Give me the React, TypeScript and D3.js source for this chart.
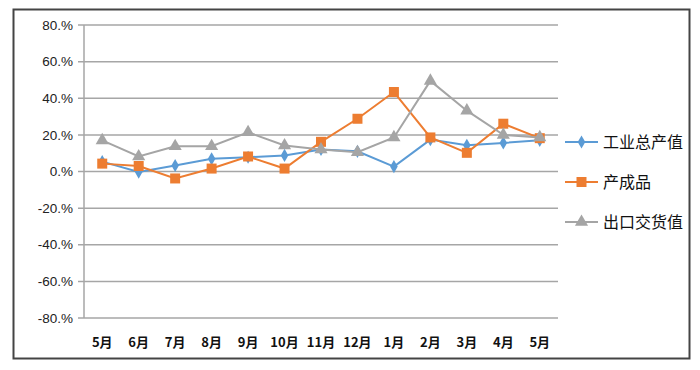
import React from 'react';
import * as d3 from 'd3';

const months = ['5月', '6月', '7月', '8月', '9月', '10月', '11月', '12月', '1月', '2月', '3月', '4月', '5月'];
const industrial = [5.4, -0.3, 3.3, 6.9, 7.8, 8.8, 12.0, 11.0, 2.7, 17.4, 14.3, 15.6, 17.0];
const finished = [4.3, 3.0, -3.8, 1.6, 8.2, 1.6, 16.2, 28.8, 43.4, 18.6, 10.2, 26.1, 18.2];
const exportValue = [17.0, 8.2, 13.8, 13.8, 21.4, 14.2, 12.0, 10.5, 18.6, 49.5, 33.2, 20.0, 18.6];
const yTicks = [-80, -60, -40, -20, 0, 20, 40, 60, 80];

const series = [
  { name: '工业总产值', values: industrial, color: '#5B9BD5', marker: 'diamond' },
  { name: '产成品', values: finished, color: '#ED7D31', marker: 'square' },
  { name: '出口交货值', values: exportValue, color: '#A5A5A5', marker: 'triangle' },
];

const WIDTH = 700;
const HEIGHT = 370;
const LEFT = 84;
const RIGHT = 558;
const TOP = 25;
const BOTTOM = 318;

const symbolFor = (m: string) => {
  if (m === 'diamond') return d3.symbol().type(d3.symbolDiamond).size(50)();
  if (m === 'square') return d3.symbol().type(d3.symbolSquare).size(100)();
  return d3.symbol().type(d3.symbolTriangle).size(75)();
};

// Excel-style "80.%" labels
const fmt = (t: number) => `${t}.%`;

const App = () => {
  const x = d3.scaleBand<number>()
    .domain(months.map((_, i) => i))
    .range([LEFT, RIGHT]);
  const y = d3.scaleLinear()
    .domain([-80, 80])
    .range([BOTTOM, TOP]);
  const cx = (i: number) => (x(i) as number) + x.bandwidth() / 2;

  const line = d3.line<number>()
    .x((_, i) => cx(i))
    .y(d => y(d));

  return (
    <svg width={WIDTH} height={HEIGHT} style={{ position: 'absolute', left: 0, top: 0 }}
      fontFamily="'Liberation Sans', 'Noto Sans CJK SC', sans-serif">
      <rect x={0} y={0} width={WIDTH} height={HEIGHT} fill="#fff" />
      <rect x={13.5} y={9.5} width={676} height={349} fill="none" stroke="#444" strokeWidth={2} />
      {yTicks.map(t => (
        <g key={t}>
          <line x1={LEFT - 6} x2={RIGHT} y1={y(t)} y2={y(t)} stroke="#a6a6a6" strokeWidth={1.5} />
          <text x={73} y={y(t)} dy="0.35em" textAnchor="end" fontSize={13.5} fill="#222">
            {fmt(t)}
          </text>
        </g>
      ))}
      <line x1={LEFT} x2={LEFT} y1={TOP} y2={BOTTOM} stroke="#a6a6a6" strokeWidth={1.5} />
      {months.map((m, i) => (
        <text key={i} x={cx(i)} y={347} textAnchor="middle" fontSize={13} fontWeight="bold" fill="#111"
          fontFamily="'Noto Sans CJK SC', sans-serif">
          {m}
        </text>
      ))}
      {series.map(s => (
        <g key={s.name}>
          <path d={line(s.values) || ''} fill="none" stroke={s.color} strokeWidth={2} />
          {s.values.map((v, i) => (
            <path key={i} d={symbolFor(s.marker) || ''} transform={`translate(${cx(i)},${y(v)})`} fill={s.color} />
          ))}
        </g>
      ))}
      {series.map((s, k) => (
        <g key={s.name} transform={`translate(565,${142 + k * 40})`}>
          <line x1={0} x2={33} y1={0} y2={0} stroke={s.color} strokeWidth={2} />
          <path d={symbolFor(s.marker) || ''} transform="translate(16.5,0)" fill={s.color} />
          <text x={38} y={0} dy="0.36em" fontSize={16} fill="#111" fontFamily="'Noto Sans CJK SC', sans-serif">
            {s.name}
          </text>
        </g>
      ))}
    </svg>
  );
};

export default App;
